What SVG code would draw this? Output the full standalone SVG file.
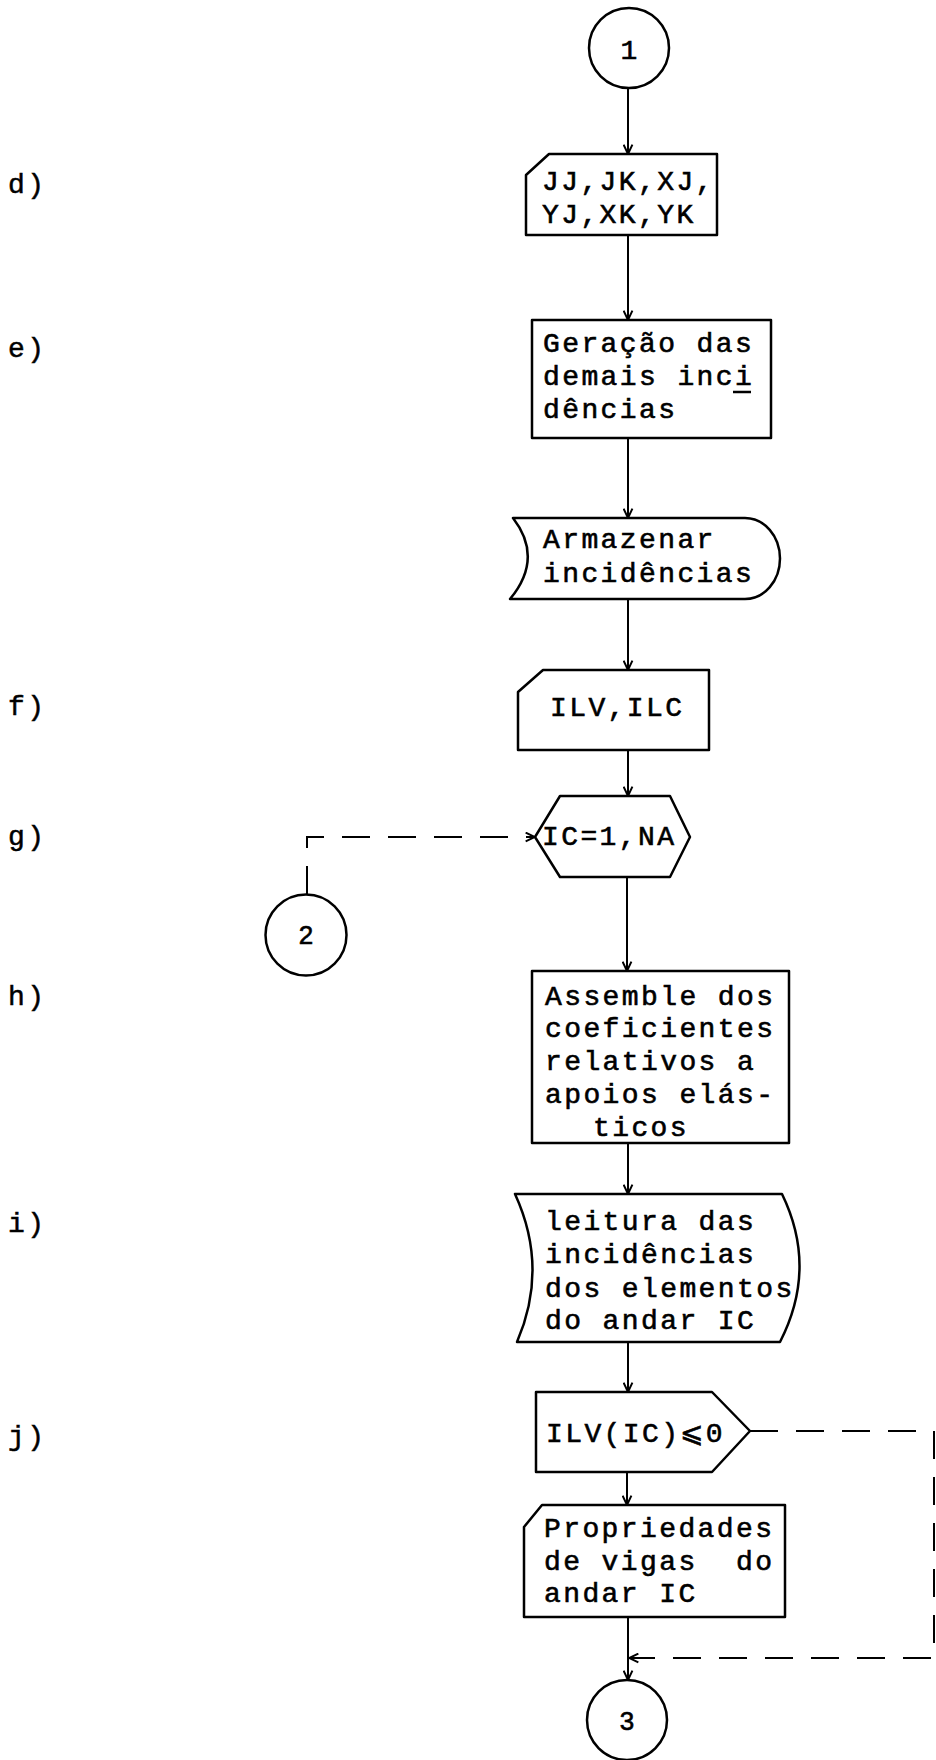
<svg xmlns="http://www.w3.org/2000/svg" width="936" height="1760" viewBox="0 0 936 1760">
<defs>
<style>
.bg{fill:#fff}
.shape{fill:#fff;stroke:#000;stroke-width:2.5;stroke-linejoin:round}
.conn{fill:none;stroke:#000;stroke-width:2}
.dash{fill:none;stroke:#000;stroke-width:2;stroke-dasharray:28 18}
.t{font-family:"Liberation Mono","DejaVu Sans Mono",monospace;font-size:28px;letter-spacing:2.4px;fill:#000;stroke:#000;stroke-width:0.6}
.lbl{font-family:"Liberation Mono","DejaVu Sans Mono",monospace;font-size:28px;letter-spacing:2.4px;fill:#000;stroke:#000;stroke-width:0.5}
.num{font-family:"Liberation Sans","DejaVu Sans",sans-serif;font-size:26px;fill:#000;stroke:#000;stroke-width:0.6;text-anchor:middle}
</style>
<marker id="arr" viewBox="0 0 10 10" refX="9.5" refY="5" markerWidth="11" markerHeight="11" markerUnits="userSpaceOnUse" orient="auto">
<path d="M1,1 L9.5,5 L1,9" fill="none" stroke="#000" stroke-width="1.8"/>
</marker>
</defs>
<rect class="bg" x="0" y="0" width="936" height="1760"/>

<g id="labels">
<text class="lbl" x="8" y="193">d)</text>
<text class="lbl" x="8" y="357">e)</text>
<text class="lbl" x="8" y="715">f)</text>
<text class="lbl" x="8" y="845">g)</text>
<text class="lbl" x="8" y="1005">h)</text>
<text class="lbl" x="8" y="1232">i)</text>
<text class="lbl" x="8" y="1445">j)</text>
</g>

<g id="connectors">
<line class="conn" x1="628" y1="88" x2="628" y2="154" marker-end="url(#arr)"/>
<line class="conn" x1="628" y1="235" x2="628" y2="320" marker-end="url(#arr)"/>
<line class="conn" x1="628" y1="438" x2="628" y2="518" marker-end="url(#arr)"/>
<line class="conn" x1="628" y1="599" x2="628" y2="670" marker-end="url(#arr)"/>
<line class="conn" x1="628" y1="750" x2="628" y2="796" marker-end="url(#arr)"/>
<line class="conn" x1="627" y1="877" x2="627" y2="971" marker-end="url(#arr)"/>
<line class="conn" x1="628" y1="1143" x2="628" y2="1194" marker-end="url(#arr)"/>
<line class="conn" x1="628" y1="1342" x2="628" y2="1392" marker-end="url(#arr)"/>
<line class="conn" x1="627" y1="1472" x2="627" y2="1505" marker-end="url(#arr)"/>
<line class="conn" x1="628" y1="1617" x2="628" y2="1680" marker-end="url(#arr)"/>
<path class="dash" d="M307,894 L307,837 L535,837" marker-end="url(#arr)"/>
<path class="dash" d="M750,1431 L934,1431 L934,1658 L629,1658" marker-end="url(#arr)"/>
</g>

<g id="c1">
<circle class="shape" cx="629" cy="48" r="40"/>
<text class="t" x="629" y="59" text-anchor="middle" style="letter-spacing:0">1</text>
</g>

<g id="n_d">
<path class="shape" d="M549,154 L717,154 L717,235 L526,235 L526,175 Z"/>
<text class="t" x="542" y="190">JJ,JK,XJ,</text>
<text class="t" x="542" y="223">YJ,XK,YK</text>
</g>

<g id="n_e">
<rect class="shape" x="532" y="320" width="239" height="118"/>
<text class="t" x="543" y="352">Geração das</text>
<text class="t" x="543" y="385">demais inci</text>
<line x1="733" y1="392" x2="751" y2="392" stroke="#000" stroke-width="2.5"/>
<text class="t" x="543" y="418">dências</text>
</g>

<g id="n_store">
<path class="shape" d="M513,518 L745,518 A35,40.5 0 0 1 745,599 L510,599 Q544,558 513,518 Z"/>
<text class="t" x="543" y="548">Armazenar</text>
<text class="t" x="543" y="582">incidências</text>
</g>

<g id="n_f">
<path class="shape" d="M543,670 L709,670 L709,750 L518,750 L518,692 Z"/>
<text class="t" x="550" y="716">ILV,ILC</text>
</g>

<g id="n_g">
<path class="shape" d="M535,837 L560,796 L670,796 L690,837 L670,877 L560,877 Z"/>
<text class="t" x="542" y="845">IC=1,NA</text>
</g>

<g id="c2">
<circle class="shape" cx="306" cy="935" r="40.5"/>
<text class="num" x="306" y="944">2</text>
</g>

<g id="n_h">
<rect class="shape" x="532" y="971" width="257" height="172"/>
<text class="t" x="545" y="1005">Assemble dos</text>
<text class="t" x="545" y="1037">coeficientes</text>
<text class="t" x="545" y="1070">relativos a</text>
<text class="t" x="545" y="1103">apoios elás-</text>
<text class="t" x="593" y="1136">ticos</text>
</g>

<g id="n_i">
<path class="shape" d="M515,1194 L782,1194 Q818,1268 780,1342 L517,1342 Q549,1268 515,1194 Z"/>
<text class="t" x="545" y="1230">leitura das</text>
<text class="t" x="545" y="1263">incidências</text>
<text class="t" x="545" y="1297">dos elementos</text>
<text class="t" x="545" y="1329">do andar IC</text>
</g>

<g id="n_j">
<path class="shape" d="M536,1392 L712,1392 L750,1431 L712,1472 L536,1472 Z"/>
<text class="t" x="546" y="1442">ILV(IC)⩽0</text>
</g>

<g id="n_k">
<path class="shape" d="M542,1505 L785,1505 L785,1617 L524,1617 L524,1527 Z"/>
<text class="t" x="544" y="1537">Propriedades</text>
<text class="t" x="544" y="1570" xml:space="preserve">de vigas  do</text>
<text class="t" x="544" y="1602">andar IC</text>
</g>

<g id="c3">
<circle class="shape" cx="627" cy="1720" r="40"/>
<text class="num" x="627" y="1730">3</text>
</g>
</svg>
